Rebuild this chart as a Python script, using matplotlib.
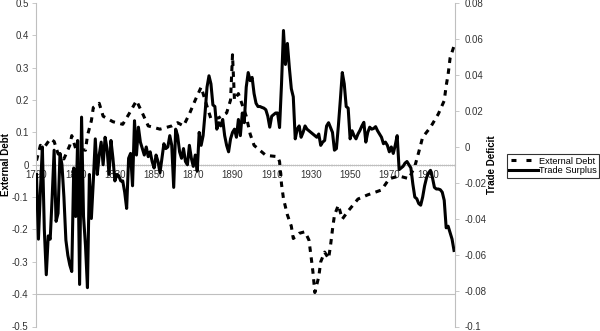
import numpy as np
import matplotlib
matplotlib.use('Agg')
import matplotlib.pyplot as plt
from matplotlib.lines import Line2D
from matplotlib.ticker import MultipleLocator

plt.rcParams['font.family'] = ['Liberation Sans', 'DejaVu Sans']

# External Debt (left axis)
debt_years = [1790, 1792, 1794, 1797, 1799, 1801, 1804, 1807, 1808, 1810, 1815, 1816, 1818,
              1819, 1822, 1824, 1829, 1834, 1837, 1841, 1844, 1847, 1853, 1859, 1862, 1865,
              1868, 1871, 1874, 1876, 1879, 1883, 1887, 1889, 1890, 1891, 1893, 1897, 1899,
              1901, 1907, 1913, 1914, 1915, 1916, 1918, 1920, 1921, 1924, 1927, 1929, 1930,
              1931, 1932, 1934, 1935, 1937, 1939, 1940, 1941, 1942, 1944, 1946, 1949, 1954,
              1959, 1966, 1970, 1975, 1980, 1983, 1985, 1987, 1991, 1995, 1998, 1999, 2000,
              2001, 2003]
debt_values = [0.013, 0.06, 0.054, 0.08, 0.072, 0.034, 0.018, 0.06, 0.09, 0.05, 0.045, 0.09, 0.136,
               0.177, 0.19, 0.15, 0.133, 0.125, 0.155, 0.198, 0.16, 0.12, 0.11, 0.12, 0.13, 0.12,
               0.157, 0.2, 0.24, 0.2, 0.142, 0.145, 0.16, 0.2, 0.34, 0.2, 0.22, 0.15, 0.095,
               0.06, 0.029, 0.025, 0.01, -0.06, -0.105, -0.155, -0.19, -0.228, -0.212, -0.207, -0.233, -0.28,
               -0.33, -0.395, -0.346, -0.30, -0.27, -0.29, -0.25, -0.2, -0.156, -0.125, -0.168, -0.143, -0.106,
               -0.093, -0.078, -0.043, -0.035, -0.043, -0.005, 0.039, 0.085, 0.116, 0.157, 0.198, 0.244, 0.28,
               0.33, 0.367]

# Trade Surplus (right axis), one value per year 1790-2003
trade_years = list(range(1790, 2004))
trade_values = [
    -0.0154, -0.0514, -0.0244, -0.0001, -0.0460, -0.0712, -0.0496, -0.0514, -0.0280, -0.0019,
    -0.0415, -0.0370, -0.0037, -0.0100, -0.0280, -0.0519, -0.0604, -0.0658, -0.0694, -0.0118,
    -0.0388, 0.0035, -0.0766, 0.0165, -0.0388, -0.0550, -0.0784, -0.0154, -0.0399, -0.0190,
    0.0044, -0.0154, -0.0046, 0.0026, -0.0100, 0.0053, -0.0010, -0.0154, 0.0035, -0.0064,
    -0.0190, -0.0154, -0.0163, -0.0190, -0.0190, -0.0253, -0.0343, -0.0064, -0.0037, -0.0217,
    0.0145, -0.0046, 0.0109, 0.0026, -0.0010, -0.0046, -0.0001, -0.0055, -0.0028, -0.0082,
    -0.0118, -0.0046, -0.0082, -0.0145, -0.0064, 0.0017, -0.0010, -0.0001, 0.0062, 0.0008,
    -0.0226, 0.0098, 0.0062, -0.0028, -0.0064, -0.0010, -0.0082, -0.0100, 0.0008, -0.0064,
    -0.0109, -0.0046, -0.0136, 0.0080, 0.0008, 0.0062, 0.0188, 0.0332, 0.0395, 0.0350,
    0.0233, 0.0224, 0.0098, 0.0134, 0.0116, 0.0152, 0.0062, 0.0008, -0.0028, 0.0044,
    0.0080, 0.0098, 0.0053, 0.0152, 0.0062, 0.0188, 0.0134, 0.0332, 0.0413, 0.0368,
    0.0386, 0.0296, 0.0242, 0.0224, 0.0224, 0.0219, 0.0215, 0.0206, 0.0170, 0.0109,
    0.0170, 0.0179, 0.0188, 0.0188, 0.0107, 0.0350, 0.0647, 0.0458, 0.0575, 0.0440,
    0.0323, 0.0278, 0.0044, 0.0098, 0.0116, 0.0053, 0.0080, 0.0116, 0.0098, 0.0089,
    0.0080, 0.0071, 0.0062, 0.0053, 0.0071, 0.0008, 0.0026, 0.0035, 0.0116, 0.0134,
    0.0107, 0.0080, -0.0019, -0.0010, 0.0116, 0.0260, 0.0413, 0.0350, 0.0224, 0.0215,
    0.0044, 0.0089, 0.0062, 0.0044, 0.0071, 0.0091, 0.0116, 0.0136, 0.0026, 0.0080,
    0.0109, 0.0098, 0.0102, 0.0112, 0.0089, 0.0071, 0.0053, 0.0017, 0.0026, 0.0008,
    -0.0028, -0.0001, -0.0037, 0.0008, 0.0062, -0.0127, -0.0118, -0.0109, -0.0091, -0.0082,
    -0.0100, -0.0118, -0.0208, -0.0280, -0.0289, -0.0316, -0.0325, -0.0280, -0.0217, -0.0172,
    -0.0145, -0.0131, -0.0172, -0.0226, -0.0235, -0.0235, -0.0239, -0.0253, -0.0298, -0.0451,
    -0.0442, -0.0478, -0.0514, -0.0577,
]

left_ticks = [-0.5, -0.4, -0.3, -0.2, -0.1, 0, 0.1, 0.2, 0.3, 0.4, 0.5]
right_ticks = [-0.1, -0.08, -0.06, -0.04, -0.02, 0, 0.02, 0.04, 0.06, 0.08]
year_ticks = list(range(1790, 2000, 20))

grey = '#bfbfbf'
text_col = '#333333'

fig = plt.figure(figsize=(6, 3.31), dpi=100)
ax = fig.add_axes([35.5 / 600, 4.5 / 331, 419.5 / 600, 323.5 / 331])
ax2 = ax.twinx()

ax.plot(debt_years, debt_values, color='black', lw=2.2,
        linestyle=(0, (1.8, 1.8)), label='External Debt')
l2, = ax2.plot(trade_years, trade_values, color='black', lw=2.2, label='Trade Surplus')

ax.set_xlim(1789.5, 2003.5)
ax.set_ylim(-0.5, 0.5)
ax2.set_ylim(-0.1, 0.08)

ax.axhline(-0.4, color=grey, lw=0.8, zorder=0)

# spines
for s in ['top', 'right']:
    ax.spines[s].set_visible(False)
for s in ['top', 'left', 'bottom']:
    ax2.spines[s].set_visible(False)
ax.spines['bottom'].set_position(('data', 0))
ax.spines['bottom'].set_color(grey)
ax.spines['left'].set_color(grey)
ax2.spines['right'].set_color(grey)

ax.set_yticks(left_ticks)
ax.set_yticklabels(['%g' % v for v in left_ticks])
ax2.set_yticks(right_ticks)
ax2.set_yticklabels(['%g' % v for v in right_ticks])
ax.set_xticks(year_ticks)
ax.set_xticklabels([str(y) for y in year_ticks])
ax.xaxis.set_minor_locator(MultipleLocator(1))

ax.tick_params(axis='y', labelsize=7, colors=grey, labelcolor=text_col, length=3, width=0.6, pad=2)
ax2.tick_params(axis='y', labelsize=7, colors=grey, labelcolor=text_col, length=3, width=0.6, pad=4)
ax.tick_params(axis='x', which='major', labelsize=7, colors=grey, labelcolor=text_col,
               length=2, width=0.5, direction='inout', pad=3)
ax.tick_params(axis='x', which='minor', colors=grey, length=2, width=0.4, direction='inout')

ax.set_ylabel('External Debt', fontsize=7, fontweight='bold')
ax.yaxis.set_label_coords(-0.058, 0.5)
ax2.set_ylabel('Trade Deficit', fontsize=7, fontweight='bold')
ax2.yaxis.set_label_coords(1.077, 0.5)

# legend: Excel draws the dashed key as two short dashes with a wide gap
debt_key = Line2D([], [], color='black', lw=2.2, linestyle=(4.27, (1.64, 3.27)))
leg = fig.legend([debt_key, l2], ['External Debt', 'Trade Surplus'], loc='center left',
                 bbox_to_anchor=(507 / 600, 1 - 166 / 331), fontsize=6.7, frameon=True,
                 fancybox=False, edgecolor='black', handlelength=3.1, handletextpad=0.05,
                 borderpad=0.25, labelspacing=0.1, borderaxespad=0)
leg.get_frame().set_linewidth(0.8)

fig.savefig('out.png', dpi=100)
